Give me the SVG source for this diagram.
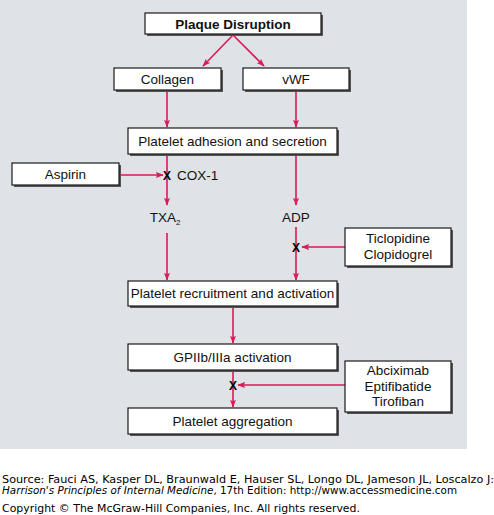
<svg xmlns="http://www.w3.org/2000/svg" width="494" height="515" viewBox="0 0 494 515">
<style>
.box{fill:#fff;stroke:#1a1a1a;stroke-width:1.2}
.sh{fill:#555}
.t{font-family:"Liberation Sans",Arial,sans-serif;font-size:13.5px;fill:#111;text-anchor:middle}
.b{font-weight:bold}
.l{fill:none;stroke:#d81b55;stroke-width:1.6}
.x{font-family:"Liberation Sans",Arial,sans-serif;font-size:12px;font-weight:bold;fill:#000;text-anchor:middle}
.f{font-family:"DejaVu Sans",Verdana,sans-serif;font-size:10px;fill:#000}
</style>
<defs>
<marker id="ah" viewBox="0 0 10 10" refX="9" refY="5" markerWidth="8" markerHeight="6" orient="auto" markerUnits="userSpaceOnUse" preserveAspectRatio="none">
<path d="M0,0 L10,5 L0,10 L2,5 z" fill="#d81b55"/>
</marker>
</defs>
<rect x="0" y="0" width="467" height="449" fill="#dfe3e8"/>

<g id="connectors">
<path class="l" d="M233,35 L203,66" marker-end="url(#ah)"/>
<path class="l" d="M233,35 L264,66" marker-end="url(#ah)"/>
<path class="l" d="M167,90 L167,127" marker-end="url(#ah)"/>
<path class="l" d="M296,90 L296,127" marker-end="url(#ah)"/>
<path class="l" d="M120,175 L163,175" marker-end="url(#ah)"/>
<path class="l" d="M167,155 L167,205" marker-end="url(#ah)"/>
<path class="l" d="M296,155 L296,205" marker-end="url(#ah)"/>
<path class="l" d="M167,233 L167,280" marker-end="url(#ah)"/>
<path class="l" d="M296,227 L296,280" marker-end="url(#ah)"/>
<path class="l" d="M345,247 L302,247" marker-end="url(#ah)"/>
<path class="l" d="M233,307 L233,343" marker-end="url(#ah)"/>
<path class="l" d="M233,371 L233,407" marker-end="url(#ah)"/>
<path class="l" d="M345,385 L238,385" marker-end="url(#ah)"/>
</g>

<g id="plaque">
<rect class="sh" x="147" y="15" width="176" height="21"/>
<rect class="box" x="145" y="13" width="176" height="21"/>
<text class="t b" x="233" y="29">Plaque Disruption</text>
</g>
<g id="collagen">
<rect class="sh" x="116" y="70" width="107" height="22"/>
<rect class="box" x="114" y="68" width="107" height="22"/>
<text class="t" x="167.5" y="84">Collagen</text>
</g>
<g id="vwf">
<rect class="sh" x="245" y="70" width="106" height="22"/>
<rect class="box" x="243" y="68" width="106" height="22"/>
<text class="t" x="296" y="84">vWF</text>
</g>
<g id="adhesion">
<rect class="sh" x="130" y="130" width="209" height="26"/>
<rect class="box" x="128" y="128" width="209" height="26"/>
<text class="t" x="232.5" y="146">Platelet adhesion and secretion</text>
</g>
<g id="aspirin">
<rect class="sh" x="14" y="165" width="107" height="22"/>
<rect class="box" x="12" y="163" width="107" height="22"/>
<text class="t" x="65.5" y="179">Aspirin</text>
</g>
<g id="cox1">
<text class="x" x="167" y="180">X</text>
<text class="t" x="177" y="180" style="text-anchor:start">COX-1</text>
</g>
<g id="txa2">
<text class="t" x="165" y="222">TXA<tspan font-size="8" dy="3">2</tspan></text>
</g>
<g id="adp">
<text class="t" x="296" y="222">ADP</text>
</g>
<g id="x-adp">
<text class="x" x="296" y="252">X</text>
</g>
<g id="ticlopidine">
<rect class="sh" x="347" y="230" width="106" height="38"/>
<rect class="box" x="345" y="228" width="106" height="38"/>
<text class="t" x="398" y="243">Ticlopidine</text>
<text class="t" x="398" y="259">Clopidogrel</text>
</g>
<g id="recruitment">
<rect class="sh" x="130" y="283" width="209" height="25"/>
<rect class="box" x="128" y="281" width="209" height="25"/>
<text class="t" x="232.5" y="298">Platelet recruitment and activation</text>
</g>
<g id="gpiib">
<rect class="sh" x="130" y="346" width="209" height="26"/>
<rect class="box" x="128" y="344" width="209" height="26"/>
<text class="t" x="232.5" y="362">GPIIb/IIIa activation</text>
</g>
<g id="x-gp">
<text class="x" x="233" y="390">X</text>
</g>
<g id="abciximab">
<rect class="sh" x="347" y="363" width="106" height="51"/>
<rect class="box" x="345" y="361" width="106" height="51"/>
<text class="t" x="398" y="375">Abciximab</text>
<text class="t" x="398" y="391">Eptifibatide</text>
<text class="t" x="398" y="406">Tirofiban</text>
</g>
<g id="aggregation">
<rect class="sh" x="130" y="410" width="209" height="26"/>
<rect class="box" x="128" y="408" width="209" height="26"/>
<text class="t" x="232.5" y="426">Platelet aggregation</text>
</g>

<text class="f" x="2" y="483" textLength="492" lengthAdjust="spacingAndGlyphs">Source: Fauci AS, Kasper DL, Braunwald E, Hauser SL, Longo DL, Jameson JL, Loscalzo J:</text>
<text class="f" x="2" y="494" textLength="455" lengthAdjust="spacingAndGlyphs"><tspan font-style="italic">Harrison's Principles of Internal Medicine</tspan>, 17th Edition: http://www.accessmedicine.com</text>
<text class="f" x="2" y="512" textLength="358" lengthAdjust="spacingAndGlyphs">Copyright © The McGraw-Hill Companies, Inc. All rights reserved.</text>
</svg>
